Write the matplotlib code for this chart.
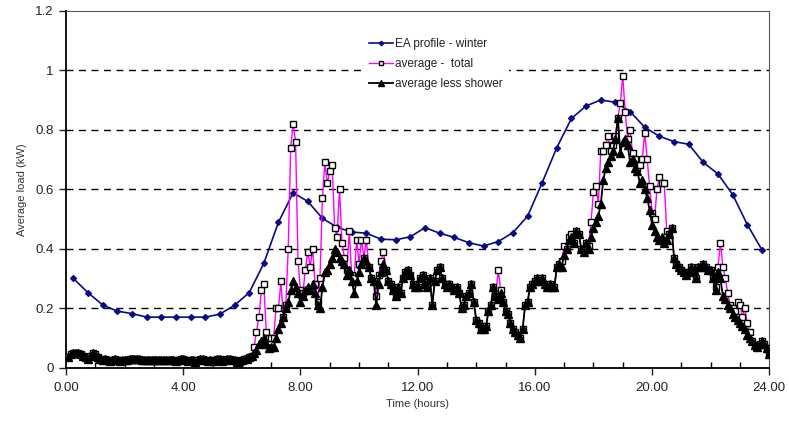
import numpy as np
import matplotlib
matplotlib.use("Agg")
import matplotlib.pyplot as plt
from matplotlib.ticker import MultipleLocator, FuncFormatter

plt.rcParams['font.family'] = ['Liberation Sans', 'DejaVu Sans']

# EA profile - winter (half-hourly, mid-points)
ea_hours = np.arange(48) * 0.5 + 0.25
ea_winter = [0.30, 0.252, 0.211, 0.19, 0.182, 0.17, 0.17, 0.17, 0.17, 0.17, 0.18, 0.21,
             0.252, 0.351, 0.489, 0.588, 0.559, 0.502, 0.472, 0.456, 0.452, 0.432, 0.43, 0.44,
             0.471, 0.452, 0.438, 0.42, 0.409, 0.424, 0.454, 0.509, 0.622, 0.74, 0.838, 0.88,
             0.90, 0.892, 0.861, 0.808, 0.778, 0.76, 0.751, 0.69, 0.651, 0.582, 0.481, 0.396]

# 5-minute data
t5 = (np.arange(288) + 1) * 5 / 60.0

less_shower = [
    0.035, 0.045, 0.05, 0.05, 0.048, 0.045, 0.04, 0.035, 0.03, 0.04, 0.05, 0.045,
    0.035, 0.03, 0.025, 0.03, 0.025, 0.022, 0.025, 0.03, 0.025, 0.022, 0.025, 0.025,
    0.025, 0.028, 0.03, 0.03, 0.03, 0.028, 0.025, 0.025, 0.025, 0.025, 0.025, 0.025,
    0.025, 0.025, 0.025, 0.025, 0.025, 0.025, 0.025, 0.025, 0.022, 0.025, 0.03, 0.03,
    0.025, 0.022, 0.025, 0.025, 0.02, 0.025, 0.03, 0.028, 0.025, 0.022, 0.025, 0.022,
    0.025, 0.03, 0.028, 0.022, 0.025, 0.03, 0.03, 0.025, 0.025, 0.02, 0.022, 0.025,
    0.028, 0.03, 0.035, 0.04, 0.05, 0.06, 0.08, 0.09, 0.1, 0.08, 0.065, 0.07,
    0.07, 0.1, 0.13, 0.15, 0.17, 0.2, 0.22, 0.26, 0.29, 0.27, 0.25, 0.22,
    0.24, 0.26, 0.27, 0.26, 0.28, 0.25, 0.21, 0.2, 0.27, 0.32, 0.33, 0.35,
    0.37, 0.40, 0.39, 0.37, 0.36, 0.35, 0.31, 0.33, 0.29, 0.25, 0.29, 0.32,
    0.35, 0.37, 0.36, 0.34, 0.3, 0.29, 0.21, 0.28, 0.32, 0.35, 0.33, 0.29,
    0.28, 0.26, 0.24, 0.27, 0.25, 0.3, 0.32, 0.33, 0.31, 0.28, 0.27, 0.27,
    0.3, 0.31, 0.28, 0.27, 0.3, 0.21, 0.29, 0.33, 0.34, 0.3, 0.28, 0.27,
    0.28, 0.27, 0.26, 0.27, 0.25, 0.2, 0.21, 0.24, 0.25, 0.28, 0.22, 0.16,
    0.15, 0.13, 0.13, 0.14, 0.19, 0.21, 0.27, 0.24, 0.23, 0.25, 0.22, 0.19,
    0.18, 0.15, 0.13, 0.12, 0.11, 0.1, 0.13, 0.21, 0.22, 0.27, 0.28, 0.29,
    0.3, 0.29, 0.3, 0.28, 0.27, 0.28, 0.27, 0.27, 0.34, 0.35, 0.34, 0.38,
    0.4, 0.43, 0.44, 0.42, 0.46, 0.45, 0.4, 0.39, 0.42, 0.4, 0.44, 0.47,
    0.49, 0.51, 0.55, 0.63, 0.67, 0.69, 0.71, 0.73, 0.77, 0.84, 0.72, 0.76,
    0.77, 0.75, 0.69, 0.7, 0.67, 0.66, 0.62, 0.63, 0.6, 0.57, 0.53, 0.48,
    0.46, 0.44, 0.43, 0.44, 0.42, 0.43, 0.45, 0.47, 0.37, 0.35, 0.34, 0.33,
    0.32, 0.31, 0.32, 0.34, 0.33, 0.3, 0.34, 0.34, 0.35, 0.34, 0.33, 0.33,
    0.3, 0.26, 0.32, 0.3, 0.24, 0.23, 0.21, 0.2, 0.18, 0.17, 0.16, 0.15,
    0.14, 0.13, 0.11, 0.1, 0.09, 0.075, 0.07, 0.08, 0.09, 0.08, 0.065, 0.045,
]

average_total = [
    0.035, 0.045, 0.05, 0.05, 0.048, 0.045, 0.04, 0.035, 0.03, 0.04, 0.05, 0.045,
    0.035, 0.03, 0.025, 0.03, 0.025, 0.022, 0.025, 0.03, 0.025, 0.022, 0.025, 0.025,
    0.025, 0.028, 0.03, 0.03, 0.03, 0.028, 0.025, 0.025, 0.025, 0.025, 0.025, 0.025,
    0.025, 0.025, 0.025, 0.025, 0.025, 0.025, 0.025, 0.025, 0.022, 0.025, 0.03, 0.03,
    0.025, 0.022, 0.025, 0.025, 0.02, 0.025, 0.03, 0.028, 0.025, 0.022, 0.025, 0.022,
    0.025, 0.03, 0.028, 0.022, 0.025, 0.03, 0.03, 0.025, 0.025, 0.02, 0.022, 0.025,
    0.028, 0.03, 0.035, 0.04, 0.07, 0.12, 0.17, 0.26, 0.28, 0.12, 0.1, 0.1,
    0.1, 0.2, 0.2, 0.29, 0.17, 0.21, 0.4, 0.74, 0.82, 0.76, 0.36, 0.26,
    0.25, 0.33, 0.39, 0.34, 0.40, 0.28, 0.22, 0.3, 0.57, 0.69, 0.62, 0.66,
    0.68, 0.47, 0.44, 0.6, 0.42, 0.37, 0.33, 0.46, 0.31, 0.3, 0.43, 0.35,
    0.43, 0.37, 0.43, 0.34, 0.3, 0.29, 0.24, 0.31, 0.36, 0.39, 0.33, 0.29,
    0.28, 0.26, 0.24, 0.27, 0.25, 0.3, 0.32, 0.33, 0.31, 0.28, 0.27, 0.27,
    0.3, 0.31, 0.28, 0.27, 0.3, 0.21, 0.29, 0.33, 0.34, 0.3, 0.28, 0.27,
    0.28, 0.27, 0.26, 0.27, 0.25, 0.2, 0.21, 0.24, 0.25, 0.28, 0.22, 0.16,
    0.15, 0.13, 0.13, 0.14, 0.19, 0.21, 0.27, 0.24, 0.33, 0.26, 0.22, 0.19,
    0.18, 0.15, 0.13, 0.12, 0.11, 0.1, 0.13, 0.21, 0.22, 0.27, 0.28, 0.29,
    0.3, 0.29, 0.3, 0.28, 0.27, 0.28, 0.27, 0.27, 0.34, 0.35, 0.36, 0.41,
    0.4, 0.44, 0.45, 0.42, 0.46, 0.45, 0.4, 0.4, 0.42, 0.41, 0.49, 0.59,
    0.61, 0.55, 0.73, 0.73, 0.75, 0.78, 0.73, 0.75, 0.78, 0.84, 0.89, 0.98,
    0.86, 0.77, 0.8, 0.72, 0.7, 0.67, 0.68, 0.7, 0.79, 0.7, 0.61, 0.52,
    0.5, 0.6, 0.64, 0.62, 0.62, 0.46, 0.45, 0.47, 0.37, 0.35, 0.34, 0.33,
    0.32, 0.31, 0.32, 0.34, 0.33, 0.3, 0.34, 0.34, 0.35, 0.34, 0.33, 0.33,
    0.3, 0.27, 0.34, 0.42, 0.34, 0.3, 0.25, 0.21, 0.2, 0.19, 0.22, 0.21,
    0.17, 0.2, 0.15, 0.12, 0.09, 0.075, 0.07, 0.08, 0.09, 0.08, 0.065, 0.045,
]

labels = ["EA profile - winter", "average -  total", "average less shower"]
x_ticks = [0, 4, 8, 12, 16, 20, 24]
y_ticks = [0, 0.2, 0.4, 0.6, 0.8, 1.0, 1.2]

fig = plt.figure(figsize=(7.89, 4.21), dpi=100)
ax = fig.add_axes([0.0837, 0.1266, 0.8913, 0.848])

ax.plot(ea_hours, ea_winter, color='#0a0a85', lw=1.2, marker='D', ms=3,
        mfc='#0a0a85', mec='#0a0a85', label=labels[0], zorder=3)
ax.plot(t5, average_total, color='#FF00FF', lw=1.0, marker='s', ms=4.5,
        mfc='white', mec='black', mew=1.0, label=labels[1], zorder=4)
ax.plot(t5, less_shower, color='black', lw=1.3, marker='^', ms=5.5,
        mfc='black', mec='black', mew=1.0, label=labels[2], zorder=5)

ax.set_xlim(0, 24)
ax.set_ylim(0, 1.2)
ax.set_xticks(x_ticks)
ax.xaxis.set_minor_locator(MultipleLocator(1))
ax.xaxis.set_major_formatter(FuncFormatter(lambda v, p: f"{v:.2f}"))
ax.set_yticks(y_ticks)
ax.yaxis.set_major_formatter(FuncFormatter(lambda v, p: f"{v:g}"))

for y in y_ticks[1:-1]:
    ax.axhline(y, color='black', lw=1.0, ls=(0, (5, 4)), zorder=1)

ax.tick_params(axis='x', which='major', direction='out', length=5, width=1,
               labelsize=9.5, colors='#222222', pad=5)
ax.tick_params(axis='x', which='minor', direction='in', length=4, width=1)
ax.tick_params(axis='y', which='major', direction='out', length=5, width=1,
               labelsize=9.5, colors='#222222', pad=4)
for s in ['left', 'bottom']:
    ax.spines[s].set_linewidth(1.3)
for s in ['top', 'right']:
    ax.spines[s].set_linewidth(0.8)
    ax.spines[s].set_color('#555555')

ax.set_xlabel("Time (hours)", fontsize=8, color='#333333', labelpad=4)
ax.set_ylabel("Average load (kW)", fontsize=8, color='#333333', labelpad=6)

leg = ax.legend(loc='upper left', bbox_to_anchor=(0.416, 0.952), frameon=True,
                fontsize=8.5, handlelength=2.0, handletextpad=0.2,
                labelspacing=0.65, borderpad=0.4, fancybox=False, markerscale=0.75)
leg.get_frame().set_edgecolor('white')
leg.get_frame().set_facecolor('white')
leg.get_frame().set_alpha(1.0)
leg.set_zorder(10)
for txt in leg.get_texts():
    txt.set_color('#222222')

fig.savefig("out.png", dpi=100)
